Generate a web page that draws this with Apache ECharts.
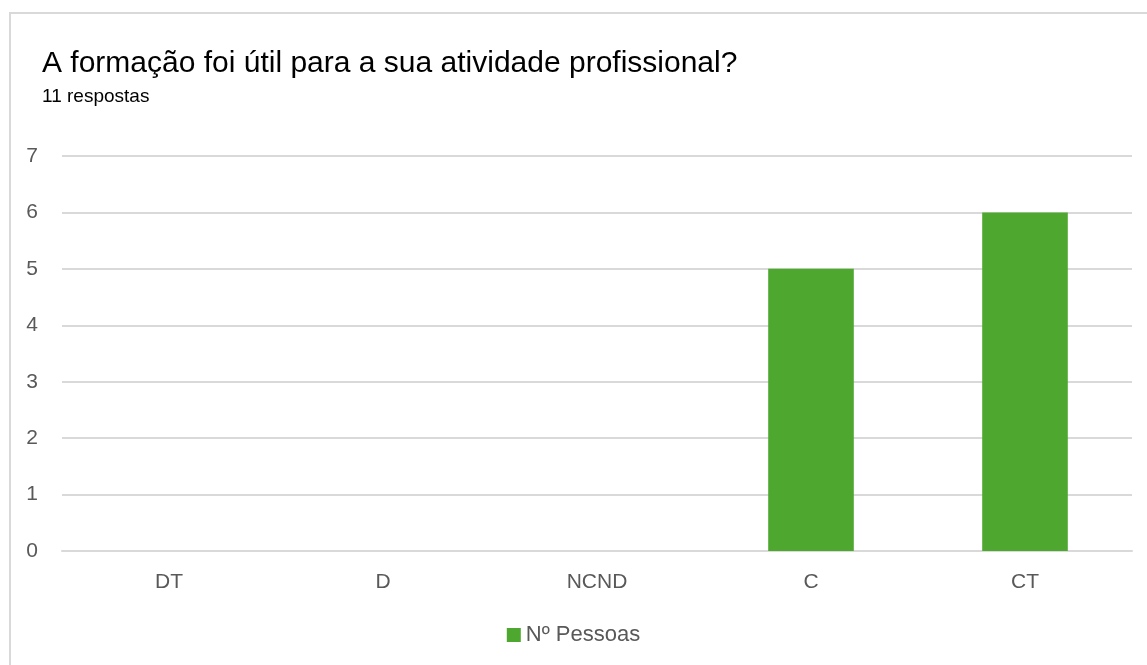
<!DOCTYPE html>
<html>
<head>
<meta charset="utf-8">
<script src="https://cdn.jsdelivr.net/npm/echarts@6/dist/echarts.min.js"></script>
<style>
  html, body { margin: 0; padding: 0; background: #ffffff; }
  #frame { position: absolute; left: 9px; top: 12px; width: 1200px; height: 700px;
           border: 2px solid #d9d9d9; box-sizing: border-box; }
  #chart { position: absolute; left: 0; top: 0; width: 1147px; height: 665px; }
</style>
</head>
<body>
<div id="frame"></div>
<div id="chart"></div>
<script>
// Survey answers: agreement scale categories and number of people
const categories = ['DT', 'D', 'NCND', 'C', 'CT'];
const pessoas = [0, 0, 0, 5, 6];
const yTicks = { min: 0, max: 7, interval: 1 };
const seriesName = 'Nº Pessoas';
const titleText = 'A formação foi útil para a sua atividade profissional?';
const subtitleText = '11 respostas';

const chart = echarts.init(document.getElementById('chart'), null, { renderer: 'canvas' });
const font = '"Liberation Sans", Arial, sans-serif';

chart.setOption({
  animation: false,
  backgroundColor: 'transparent',
  title: {
    text: titleText,
    subtext: subtitleText,
    left: 37,
    top: 44,
    itemGap: 8,
    textStyle: { fontFamily: font, fontSize: 30, fontWeight: 'normal', color: '#000000' },
    subtextStyle: { fontFamily: font, fontSize: 19, color: '#000000' }
  },
  legend: {
    data: [seriesName],
    bottom: 14,
    left: 'center',
    itemWidth: 14,
    itemHeight: 14,
    itemGap: 6,
    icon: 'rect',
    textStyle: { fontFamily: font, fontSize: 22, color: '#595959' }
  },
  grid: { left: 62, right: 15, top: 156, bottom: 114, containLabel: false },
  xAxis: {
    type: 'category',
    data: categories,
    axisLine: { show: true, lineStyle: { color: '#d9d9d9', width: 2 } },
    axisTick: { show: false },
    axisLabel: { fontFamily: font, fontSize: 21, color: '#595959', margin: 21 }
  },
  yAxis: {
    type: 'value',
    min: yTicks.min,
    max: yTicks.max,
    interval: yTicks.interval,
    axisLine: { show: false },
    axisTick: { show: false },
    axisLabel: { fontFamily: font, fontSize: 21, color: '#595959', margin: 24 },
    splitLine: { lineStyle: { color: '#d9d9d9', width: 2 } }
  },
  series: [{
    name: seriesName,
    type: 'bar',
    data: pessoas,
    barWidth: '40%',
    itemStyle: { color: '#4ea72e' }
  }]
});
</script>
</body>
</html>
